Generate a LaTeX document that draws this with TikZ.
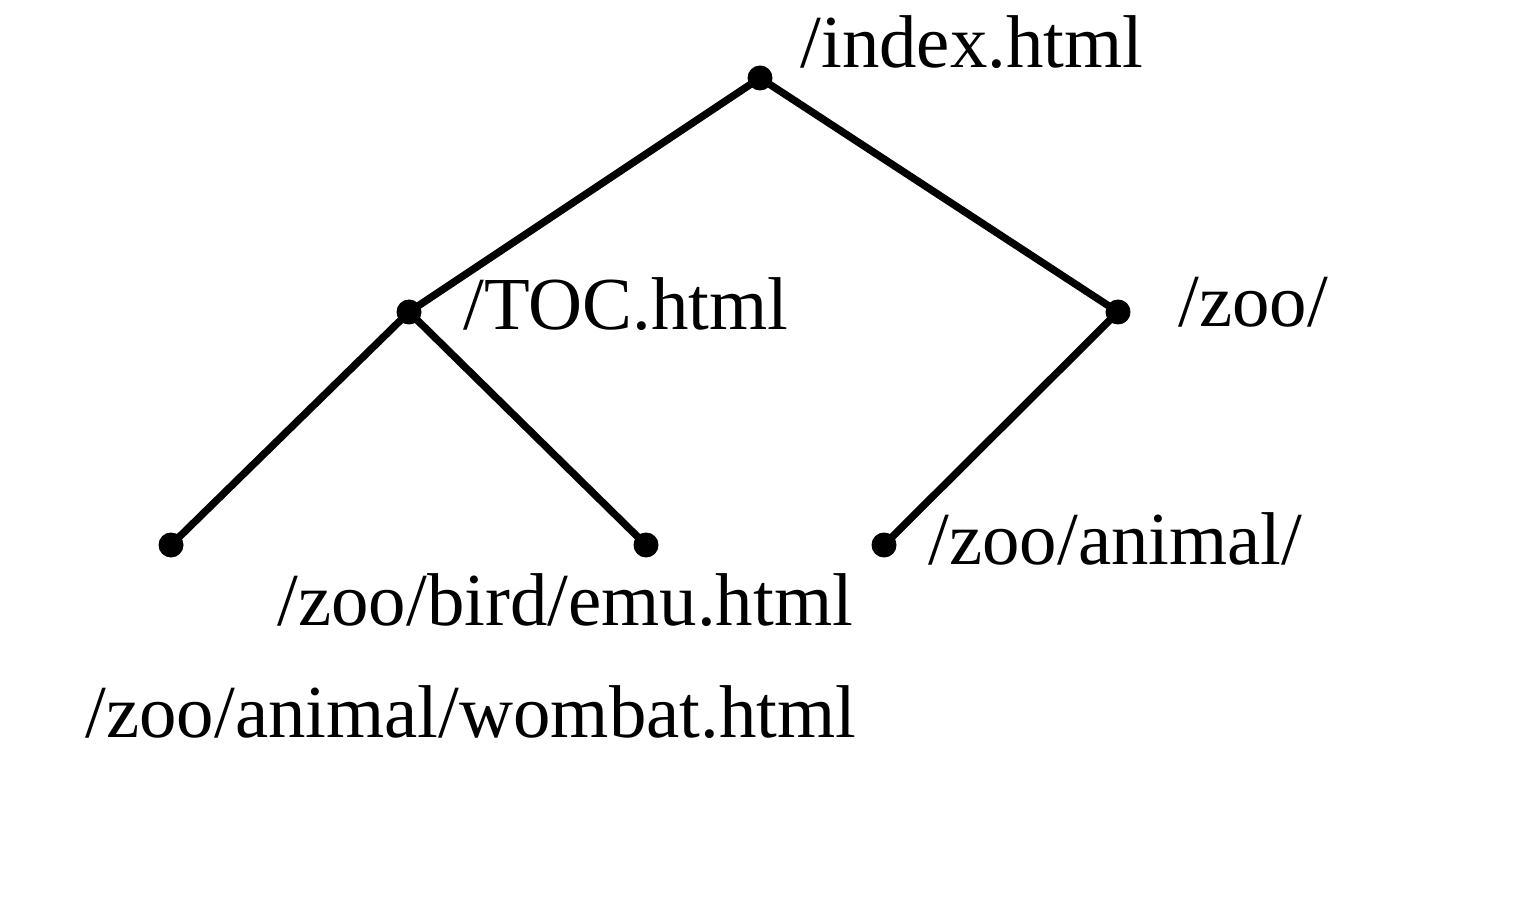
\documentclass[tikz,border=0pt]{standalone}
\usepackage{fontspec}
\setmainfont{Liberation Serif}
\usepackage{tikz}

\begin{document}
\begin{tikzpicture}[x=0.5pt,y=0.5pt,yscale=-1,xscale=1,
  dot/.style={circle,fill=black,inner sep=0pt,minimum size=12.5pt},
  lbl/.style={anchor=base west,inner sep=0pt,font=\fontsize{37.4}{44}\selectfont},
  edge/.style={line width=3.7pt}]
\path[use as bounding box,fill=white] (0,0) rectangle (1529,908);

% Dot
\node [dot] (index) at (760,78) {};
% Dot
\node [dot] (toc) at (409,312) {};
% Dot
\node [dot] (zoo) at (1118,312) {};
% Dot
\node [dot] (wombat) at (171,545) {};
% Dot
\node [dot] (emu) at (646,545) {};
% Dot
\node [dot] (animal) at (884,545) {};

% Text Node
\node [lbl] (tindex) at (800,68) {/index.html};
% Text Node
\node [lbl] (ttoc) at (463,330) {/TOC.html};
% Text Node
\node [lbl] (tzoo) at (1178,327) {/zoo/};
% Text Node
\node [lbl] (tanimal) at (928,564) {/zoo/animal/};
% Text Node
\node [lbl] (temu) at (277,625) {/zoo/bird/emu.html};
% Text Node
\node [lbl] (twombat) at (85,737) {/zoo/animal/wombat.html};

% Connection
\draw [edge] (index.center) -- (toc.center) ;
% Connection
\draw [edge] (index.center) -- (zoo.center) ;
% Connection
\draw [edge] (toc.center) -- (wombat.center) ;
% Connection
\draw [edge] (toc.center) -- (emu.center) ;
% Connection
\draw [edge] (zoo.center) -- (animal.center) ;

\end{tikzpicture}
\end{document}
